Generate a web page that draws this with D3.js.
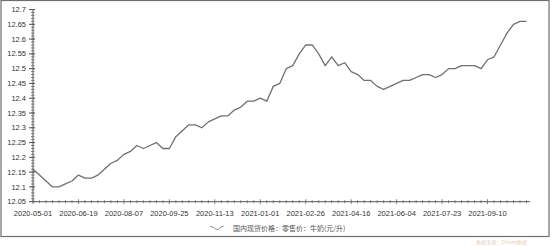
<!DOCTYPE html>
<html>
<head>
<meta charset="utf-8">
<script src="https://cdn.jsdelivr.net/npm/d3@7/dist/d3.min.js"></script>
<style>
  body { margin: 0; background: #fff; }
  #chart { width: 556px; height: 246px; }
  text { font-family: "Liberation Sans", Arial, sans-serif; fill: #333; }
</style>
</head>
<body>
<div id="chart"></div>
<script>
// weekly dates (no 2021-02-12)
var dates = [
    '2020-05-01','2020-05-08','2020-05-15','2020-05-22','2020-05-29','2020-06-05','2020-06-12',
    '2020-06-19','2020-06-26','2020-07-03','2020-07-10','2020-07-17','2020-07-24','2020-07-31',
    '2020-08-07','2020-08-14','2020-08-21','2020-08-28','2020-09-04','2020-09-11','2020-09-18',
    '2020-09-25','2020-10-02','2020-10-09','2020-10-16','2020-10-23','2020-10-30','2020-11-06',
    '2020-11-13','2020-11-20','2020-11-27','2020-12-04','2020-12-11','2020-12-18','2020-12-25',
    '2021-01-01','2021-01-08','2021-01-15','2021-01-22','2021-01-29','2021-02-05','2021-02-19',
    '2021-02-26','2021-03-05','2021-03-12','2021-03-19','2021-03-26','2021-04-02','2021-04-09',
    '2021-04-16','2021-04-23','2021-04-30','2021-05-07','2021-05-14','2021-05-21','2021-05-28',
    '2021-06-04','2021-06-11','2021-06-18','2021-06-25','2021-07-02','2021-07-09','2021-07-16',
    '2021-07-23','2021-07-30','2021-08-06','2021-08-13','2021-08-20','2021-08-27','2021-09-03',
    '2021-09-10','2021-09-17','2021-09-24','2021-10-01','2021-10-08','2021-10-15','2021-10-22'
];

// 国内现货价格:零售价:牛奶(元/升)
var milkPrice = [
    12.16, 12.14, 12.12, 12.10, 12.10, 12.11, 12.12,
    12.14, 12.13, 12.13, 12.14, 12.16, 12.18, 12.19,
    12.21, 12.22, 12.24, 12.23, 12.24, 12.25, 12.23,
    12.23, 12.27, 12.29, 12.31, 12.31, 12.30, 12.32,
    12.33, 12.34, 12.34, 12.36, 12.37, 12.39, 12.39,
    12.40, 12.39, 12.44, 12.45, 12.50, 12.51, 12.55,
    12.58, 12.58, 12.55, 12.51, 12.54, 12.51, 12.52,
    12.49, 12.48, 12.46, 12.46, 12.44, 12.43, 12.44,
    12.45, 12.46, 12.46, 12.47, 12.48, 12.48, 12.47,
    12.48, 12.50, 12.50, 12.51, 12.51, 12.51, 12.50,
    12.53, 12.54, 12.58, 12.62, 12.65, 12.66, 12.66
];

var yTicks = [12.05, 12.1, 12.15, 12.2, 12.25, 12.3, 12.35, 12.4, 12.45, 12.5, 12.55, 12.6, 12.65, 12.7];
var seriesName = '国内现货价格：零售价：牛奶(元/升)';
var sourceNote = '数据来源：Choice数据';

var width = 556, height = 246;

var svg = d3.select('#chart')
    .append('svg')
        .attr('width', width)
        .attr('height', height)
;

// frame
svg.append('rect')
    .attr('x', 1).attr('y', 0.5)
    .attr('width', 548).attr('height', 236)
    .style('fill', 'none')
    .style('stroke', '#6e6e6e')
    .style('stroke-width', 1.2)
;

var x = d3.scalePoint()
    .domain(dates)
    .range([33, 526.5])
;

var y = d3.scaleLinear()
    .domain([12.05, 12.7])
    .range([201.7, 9.5])
;

// y axis with minor ticks every 0.01
var yAxis = svg.append('g').attr('class', 'y-axis');
yAxis.append('line')
    .attr('x1', 33).attr('x2', 33)
    .attr('y1', y(12.05)).attr('y2', y(12.7))
    .style('stroke', '#555')
;
yAxis.selectAll('line.minor')
    .data(d3.range(1205, 1271).map(function(d) { return d / 100; }))
    .enter().append('line')
        .attr('class', 'minor')
        .attr('x1', 31).attr('x2', 34.5)
        .attr('y1', function(d) { return y(d); })
        .attr('y2', function(d) { return y(d); })
        .style('stroke', '#666')
        .style('stroke-width', 0.8)
;
yAxis.selectAll('line.major')
    .data(yTicks)
    .enter().append('line')
        .attr('class', 'major')
        .attr('x1', 29).attr('x2', 35)
        .attr('y1', function(d) { return y(d); })
        .attr('y2', function(d) { return y(d); })
        .style('stroke', '#555')
;
yAxis.selectAll('text')
    .data(yTicks)
    .enter().append('text')
        .attr('x', 26)
        .attr('y', function(d) { return y(d) + 2.6; })
        .style('text-anchor', 'end')
        .style('font-size', '7.5px')
        .text(function(d) { return d; })
;

// x axis, tick on each week, label every 7th
var xAxis = svg.append('g').attr('class', 'x-axis');
xAxis.append('line')
    .attr('x1', 33).attr('x2', 530)
    .attr('y1', y(12.05)).attr('y2', y(12.05))
    .style('stroke', '#555')
;
xAxis.selectAll('line.tick')
    .data(dates)
    .enter().append('line')
        .attr('class', 'tick')
        .attr('x1', function(d) { return x(d); })
        .attr('x2', function(d) { return x(d); })
        .attr('y1', function(d, i) { return y(12.05) - (i % 7 === 0 ? 2.5 : 1.5); })
        .attr('y2', function(d, i) { return y(12.05) + (i % 7 === 0 ? 2.5 : 1.5); })
        .style('stroke', '#666')
        .style('stroke-width', 0.8)
;
xAxis.selectAll('text')
    .data(dates.filter(function(d, i) { return i % 7 === 0; }))
    .enter().append('text')
        .attr('x', function(d) { return x(d); })
        .attr('y', 215.5)
        .style('text-anchor', 'middle')
        .style('font-size', '7.5px')
        .text(function(d) { return d; })
;

// series line
var line = d3.line()
    .x(function(d, i) { return x(dates[i]); })
    .y(function(d) { return y(d); })
;
svg.append('path')
    .datum(milkPrice)
    .attr('d', line)
    .style('fill', 'none')
    .style('stroke', '#707070')
    .style('stroke-width', 1.3)
    .style('stroke-linejoin', 'round')
;

// legend
var legend = svg.append('g').attr('class', 'legend');
legend.append('path')
    .attr('d', 'M210,226.5 C214,226.5 215,229.5 217,229.5 C219,229.5 220,226.5 223.5,226')
    .style('fill', 'none')
    .style('stroke', '#8a8a8a')
    .style('stroke-width', 1)
;
legend.append('text')
    .attr('x', 233)
    .attr('y', 230.5)
    .style('font-family', '"Noto Sans CJK SC", sans-serif')
    .style('font-size', '7px')
    .style('fill', '#555')
    .text(seriesName)
;

// source note
svg.append('text')
    .attr('x', 527)
    .attr('y', 243.5)
    .style('text-anchor', 'end')
    .style('font-family', '"Noto Sans CJK SC", sans-serif')
    .style('font-size', '5px')
    .style('fill', '#e9cfb4')
    .text(sourceNote)
;
</script>
</body>
</html>
